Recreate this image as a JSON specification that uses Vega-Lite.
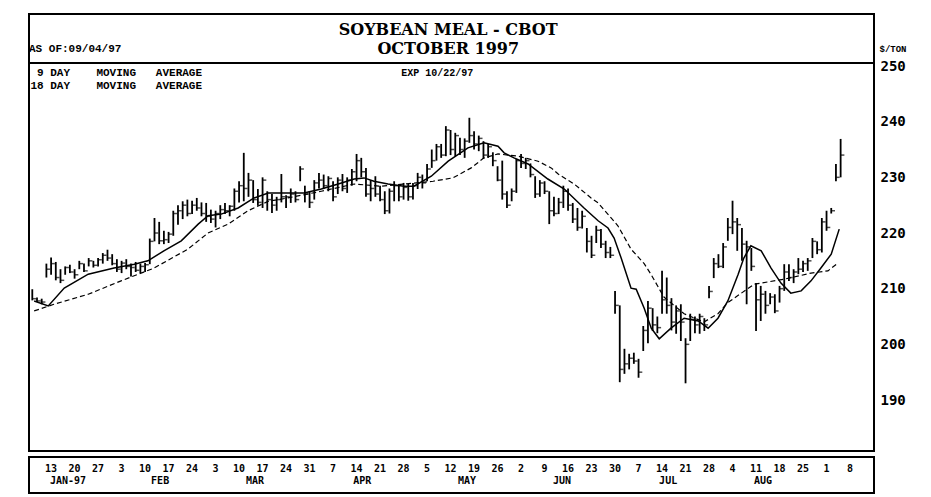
{
  "$schema": "https://vega.github.io/schema/vega-lite/v6.json",
  "background": "white",
  "padding": {"left": 28, "top": 13, "right": 5, "bottom": 5},
  "config": {
    "view": {"stroke": "black", "strokeWidth": 2},
    "text": {"font": "Liberation Mono", "fontWeight": "bold", "color": "black"}
  },
  "datasets": {
    "bars": [
      {"t":-4,"high":209.9,"low":207.9,"close":208.2},
      {"t":-3,"high":208.4,"low":207.6,"close":207.8},
      {"t":-2,"high":208.2,"low":207.2,"close":207.6},
      {"t":-1,"high":214.5,"low":212.0,"close":213.5},
      {"t":0,"high":215.6,"low":212.5,"close":214.5},
      {"t":1,"high":214.8,"low":211.5,"close":212.0},
      {"t":2,"high":213.5,"low":211.0,"close":211.5},
      {"t":3,"high":214.0,"low":212.5,"close":213.8},
      {"t":4,"high":214.3,"low":212.8,"close":213.0},
      {"t":5,"high":213.5,"low":211.8,"close":212.5},
      {"t":6,"high":215.0,"low":213.5,"close":214.5},
      {"t":7,"high":214.5,"low":213.0,"close":213.2},
      {"t":8,"high":215.5,"low":214.0,"close":215.0},
      {"t":9,"high":215.0,"low":213.8,"close":214.2},
      {"t":10,"high":215.5,"low":214.0,"close":215.2},
      {"t":11,"high":216.4,"low":214.5,"close":216.0},
      {"t":12,"high":217.0,"low":215.0,"close":215.5},
      {"t":13,"high":216.2,"low":214.2,"close":214.5},
      {"t":14,"high":215.3,"low":213.0,"close":213.5},
      {"t":15,"high":215.0,"low":212.8,"close":214.6},
      {"t":16,"high":215.3,"low":213.5,"close":214.0},
      {"t":17,"high":214.5,"low":212.2,"close":213.8},
      {"t":18,"high":214.8,"low":213.0,"close":213.3},
      {"t":19,"high":214.5,"low":212.8,"close":214.0},
      {"t":20,"high":214.6,"low":213.0,"close":214.3},
      {"t":21,"high":219.0,"low":214.4,"close":218.5},
      {"t":22,"high":222.7,"low":218.5,"close":220.0},
      {"t":23,"high":222.0,"low":218.0,"close":218.6},
      {"t":24,"high":220.4,"low":218.0,"close":218.8},
      {"t":25,"high":220.2,"low":218.2,"close":219.8},
      {"t":26,"high":224.0,"low":219.5,"close":223.5},
      {"t":27,"high":225.0,"low":221.5,"close":224.0},
      {"t":28,"high":225.7,"low":222.5,"close":225.0},
      {"t":29,"high":226.0,"low":223.0,"close":223.5},
      {"t":30,"high":225.8,"low":223.4,"close":225.0},
      {"t":31,"high":226.3,"low":224.0,"close":224.5},
      {"t":32,"high":225.5,"low":223.0,"close":223.5},
      {"t":33,"high":225.4,"low":222.0,"close":223.0},
      {"t":34,"high":224.2,"low":221.8,"close":222.5},
      {"t":35,"high":224.0,"low":221.0,"close":223.5},
      {"t":36,"high":225.0,"low":222.5,"close":224.2},
      {"t":37,"high":225.4,"low":223.4,"close":224.0},
      {"t":38,"high":225.0,"low":223.0,"close":224.8},
      {"t":39,"high":228.0,"low":224.0,"close":227.5},
      {"t":40,"high":229.3,"low":225.5,"close":228.5},
      {"t":41,"high":234.4,"low":225.7,"close":228.0},
      {"t":42,"high":230.8,"low":226.5,"close":229.5},
      {"t":43,"high":229.5,"low":225.4,"close":226.0},
      {"t":44,"high":227.9,"low":224.9,"close":225.5},
      {"t":45,"high":230.0,"low":224.5,"close":229.5},
      {"t":46,"high":227.5,"low":224.0,"close":226.0},
      {"t":47,"high":227.0,"low":223.6,"close":225.0},
      {"t":48,"high":226.5,"low":224.0,"close":226.0},
      {"t":49,"high":230.6,"low":225.5,"close":226.5},
      {"t":50,"high":226.8,"low":224.5,"close":226.5},
      {"t":51,"high":228.0,"low":225.4,"close":227.0},
      {"t":52,"high":227.5,"low":225.5,"close":226.0},
      {"t":53,"high":232.0,"low":229.3,"close":231.5},
      {"t":54,"high":228.5,"low":225.5,"close":227.0},
      {"t":55,"high":227.5,"low":224.5,"close":225.5},
      {"t":56,"high":229.5,"low":226.0,"close":229.0},
      {"t":57,"high":230.8,"low":228.0,"close":229.5},
      {"t":58,"high":230.5,"low":228.0,"close":228.5},
      {"t":59,"high":230.2,"low":227.5,"close":229.8},
      {"t":60,"high":229.3,"low":225.7,"close":226.5},
      {"t":61,"high":230.0,"low":227.0,"close":229.5},
      {"t":62,"high":230.6,"low":227.5,"close":228.0},
      {"t":63,"high":230.0,"low":227.2,"close":229.5},
      {"t":64,"high":231.5,"low":228.5,"close":231.0},
      {"t":65,"high":234.2,"low":229.3,"close":233.0},
      {"t":66,"high":233.5,"low":230.0,"close":231.0},
      {"t":67,"high":231.7,"low":226.5,"close":227.0},
      {"t":68,"high":229.5,"low":225.7,"close":228.0},
      {"t":69,"high":230.2,"low":226.5,"close":227.0},
      {"t":70,"high":228.5,"low":225.7,"close":226.0},
      {"t":71,"high":227.5,"low":223.4,"close":224.0},
      {"t":72,"high":228.0,"low":223.5,"close":227.5},
      {"t":73,"high":229.3,"low":225.7,"close":228.5},
      {"t":74,"high":228.5,"low":225.7,"close":226.5},
      {"t":75,"high":229.0,"low":226.0,"close":228.2},
      {"t":76,"high":228.8,"low":225.8,"close":226.5},
      {"t":77,"high":229.0,"low":226.0,"close":228.5},
      {"t":78,"high":230.8,"low":227.9,"close":230.0},
      {"t":79,"high":230.5,"low":228.0,"close":229.0},
      {"t":80,"high":232.4,"low":229.3,"close":231.5},
      {"t":81,"high":235.0,"low":231.7,"close":233.0},
      {"t":82,"high":236.0,"low":233.0,"close":235.5},
      {"t":83,"high":236.0,"low":233.5,"close":234.0},
      {"t":84,"high":239.2,"low":233.8,"close":238.5},
      {"t":85,"high":238.5,"low":234.0,"close":235.0},
      {"t":86,"high":238.0,"low":233.8,"close":237.5},
      {"t":87,"high":237.1,"low":234.0,"close":235.0},
      {"t":88,"high":237.0,"low":233.5,"close":236.5},
      {"t":89,"high":240.7,"low":236.2,"close":237.5},
      {"t":90,"high":238.3,"low":235.0,"close":236.0},
      {"t":91,"high":237.5,"low":234.7,"close":237.0},
      {"t":92,"high":236.5,"low":233.3,"close":234.0},
      {"t":93,"high":236.0,"low":233.5,"close":235.5},
      {"t":94,"high":234.5,"low":232.0,"close":233.0},
      {"t":95,"high":232.0,"low":229.3,"close":229.5},
      {"t":96,"high":233.0,"low":226.0,"close":227.0},
      {"t":97,"high":227.5,"low":224.5,"close":225.0},
      {"t":98,"high":228.0,"low":225.7,"close":227.5},
      {"t":99,"high":233.3,"low":227.2,"close":233.0},
      {"t":100,"high":234.2,"low":231.7,"close":232.5},
      {"t":101,"high":233.5,"low":231.5,"close":233.0},
      {"t":102,"high":232.5,"low":230.0,"close":230.5},
      {"t":103,"high":230.2,"low":226.3,"close":227.0},
      {"t":104,"high":229.5,"low":226.5,"close":229.0},
      {"t":105,"high":229.3,"low":227.0,"close":227.5},
      {"t":106,"high":227.5,"low":221.6,"close":224.0},
      {"t":107,"high":226.5,"low":223.0,"close":223.5},
      {"t":108,"high":226.3,"low":223.4,"close":225.5},
      {"t":109,"high":228.5,"low":224.5,"close":227.5},
      {"t":110,"high":228.0,"low":224.0,"close":225.0},
      {"t":111,"high":225.4,"low":221.8,"close":222.5},
      {"t":112,"high":224.5,"low":220.4,"close":221.0},
      {"t":113,"high":224.0,"low":220.8,"close":223.0},
      {"t":114,"high":220.9,"low":216.5,"close":218.5},
      {"t":115,"high":219.5,"low":215.5,"close":216.0},
      {"t":116,"high":221.3,"low":218.2,"close":220.5},
      {"t":117,"high":220.7,"low":217.3,"close":218.0},
      {"t":118,"high":218.6,"low":215.5,"close":216.5},
      {"t":119,"high":217.5,"low":215.5,"close":216.0},
      {"t":120,"high":209.6,"low":205.5,"close":207.0},
      {"t":121,"high":207.0,"low":193.2,"close":195.5},
      {"t":122,"high":199.2,"low":194.7,"close":196.5},
      {"t":123,"high":198.3,"low":195.5,"close":197.5},
      {"t":124,"high":198.5,"low":196.5,"close":197.0},
      {"t":125,"high":197.4,"low":194.0,"close":195.0},
      {"t":126,"high":203.3,"low":198.8,"close":202.5},
      {"t":127,"high":207.8,"low":200.2,"close":206.5},
      {"t":128,"high":206.5,"low":202.4,"close":203.5},
      {"t":129,"high":205.0,"low":202.0,"close":203.0},
      {"t":130,"high":213.2,"low":205.5,"close":208.0},
      {"t":131,"high":212.0,"low":205.5,"close":207.0},
      {"t":132,"high":208.3,"low":202.5,"close":204.0},
      {"t":133,"high":207.0,"low":201.9,"close":206.0},
      {"t":134,"high":207.2,"low":200.6,"close":204.0},
      {"t":135,"high":201.1,"low":193.0,"close":200.0},
      {"t":136,"high":205.5,"low":200.6,"close":204.5},
      {"t":137,"high":205.0,"low":202.0,"close":203.5},
      {"t":138,"high":205.5,"low":201.9,"close":205.0},
      {"t":139,"high":204.7,"low":202.4,"close":203.5},
      {"t":140,"high":210.5,"low":208.3,"close":209.5},
      {"t":141,"high":215.5,"low":211.9,"close":214.5},
      {"t":142,"high":216.2,"low":213.7,"close":214.0},
      {"t":143,"high":218.2,"low":213.7,"close":217.5},
      {"t":144,"high":222.7,"low":218.6,"close":221.0},
      {"t":145,"high":225.8,"low":219.8,"close":222.0},
      {"t":146,"high":222.7,"low":216.8,"close":221.5},
      {"t":147,"high":220.9,"low":215.0,"close":218.0},
      {"t":148,"high":218.6,"low":207.2,"close":217.5},
      {"t":149,"high":217.3,"low":213.2,"close":214.0},
      {"t":150,"high":211.0,"low":202.4,"close":208.0},
      {"t":151,"high":210.5,"low":204.2,"close":209.0},
      {"t":152,"high":209.6,"low":205.5,"close":207.0},
      {"t":153,"high":209.2,"low":207.2,"close":208.5},
      {"t":154,"high":209.0,"low":205.6,"close":206.0},
      {"t":155,"high":210.5,"low":207.5,"close":210.0},
      {"t":156,"high":214.4,"low":209.6,"close":213.0},
      {"t":157,"high":214.4,"low":211.4,"close":212.0},
      {"t":158,"high":213.5,"low":211.0,"close":213.0},
      {"t":159,"high":215.5,"low":212.6,"close":213.5},
      {"t":160,"high":215.0,"low":213.0,"close":214.5},
      {"t":161,"high":215.5,"low":213.2,"close":215.0},
      {"t":162,"high":219.1,"low":215.5,"close":218.5},
      {"t":163,"high":218.5,"low":216.2,"close":217.0},
      {"t":164,"high":222.7,"low":216.5,"close":222.0},
      {"t":165,"high":224.0,"low":220.4,"close":221.0},
      {"t":166,"high":224.5,"low":223.5,"close":224.0},
      {"t":167,"high":232.4,"low":229.3,"close":230.0},
      {"t":168,"high":236.9,"low":230.0,"close":234.0}
    ],
    "ma9": [
      {"t":-3.6,"ma":207.8},{"t":-0.6,"ma":206.9},{"t":2.8,"ma":210.1},{"t":7.9,"ma":212.6},
      {"t":13.4,"ma":213.7},{"t":17.7,"ma":214.4},{"t":20.6,"ma":215.0},{"t":24.0,"ma":216.8},
      {"t":27.7,"ma":218.6},{"t":31.3,"ma":221.6},{"t":33.4,"ma":223.1},{"t":36.2,"ma":223.4},
      {"t":39.8,"ma":224.5},{"t":43.2,"ma":226.3},{"t":46.2,"ma":227.2},{"t":50.4,"ma":227.2},
      {"t":53.8,"ma":227.2},{"t":57.5,"ma":227.9},{"t":61.1,"ma":228.8},{"t":64.5,"ma":229.7},
      {"t":66.6,"ma":229.9},{"t":68.7,"ma":229.3},{"t":71.7,"ma":228.8},{"t":75.1,"ma":228.4},
      {"t":77.2,"ma":228.4},{"t":80.9,"ma":230.2},{"t":84.5,"ma":232.9},{"t":88.7,"ma":235.3},
      {"t":92.1,"ma":236.2},{"t":95.1,"ma":235.6},{"t":96.4,"ma":234.4},{"t":98.5,"ma":233.5},
      {"t":101.5,"ma":232.4},{"t":105.7,"ma":229.7},{"t":109.2,"ma":227.9},{"t":113.4,"ma":224.5},
      {"t":116.4,"ma":222.2},{"t":118.5,"ma":220.9},{"t":119.8,"ma":219.1},{"t":121.3,"ma":215.5},
      {"t":123.4,"ma":210.1},{"t":124.5,"ma":209.9},{"t":126.2,"ma":206.5},{"t":127.7,"ma":202.9},
      {"t":129.4,"ma":201.0},{"t":131.9,"ma":202.9},{"t":134.7,"ma":204.7},{"t":137.7,"ma":204.2},
      {"t":139.8,"ma":202.9},{"t":141.9,"ma":204.7},{"t":144.0,"ma":207.8},{"t":146.2,"ma":212.6},
      {"t":147.4,"ma":215.5},{"t":148.9,"ma":217.7},{"t":151.1,"ma":216.8},{"t":153.2,"ma":213.7},
      {"t":155.3,"ma":211.0},{"t":157.4,"ma":209.2},{"t":159.6,"ma":209.6},{"t":161.7,"ma":211.4},
      {"t":163.8,"ma":213.7},{"t":166.0,"ma":216.2},{"t":167.7,"ma":220.7}
    ],
    "ma18": [
      {"t":-3.6,"ma":206.0},{"t":0.6,"ma":207.2},{"t":7.9,"ma":209.0},{"t":14.9,"ma":211.4},
      {"t":21.9,"ma":213.7},{"t":29.1,"ma":217.1},{"t":33.4,"ma":220.0},{"t":37.7,"ma":221.6},
      {"t":41.9,"ma":224.0},{"t":46.2,"ma":225.7},{"t":50.4,"ma":226.3},{"t":57.5,"ma":227.5},
      {"t":64.5,"ma":228.8},{"t":70.2,"ma":228.4},{"t":75.1,"ma":228.8},{"t":81.3,"ma":229.3},
      {"t":85.5,"ma":229.9},{"t":89.4,"ma":231.7},{"t":92.1,"ma":233.5},{"t":95.1,"ma":234.2},
      {"t":99.4,"ma":233.8},{"t":103.6,"ma":232.9},{"t":106.4,"ma":231.7},{"t":107.9,"ma":230.6},
      {"t":111.3,"ma":228.8},{"t":114.9,"ma":226.3},{"t":116.4,"ma":225.4},{"t":120.6,"ma":221.3},
      {"t":123.4,"ma":217.1},{"t":126.2,"ma":214.5},{"t":127.7,"ma":212.5},{"t":130.4,"ma":208.5},
      {"t":134.7,"ma":205.5},{"t":138.9,"ma":204.0},{"t":141.9,"ma":205.5},{"t":144.0,"ma":207.5},
      {"t":149.6,"ma":210.8},{"t":156.0,"ma":211.7},{"t":161.7,"ma":212.8},{"t":165.3,"ma":213.2},
      {"t":167.4,"ma":214.6}
    ],
    "days": [
      {"t":0,"label":"13"},{"t":5,"label":"20"},{"t":10,"label":"27"},{"t":15,"label":"3"},
      {"t":20,"label":"10"},{"t":25,"label":"17"},{"t":30,"label":"24"},{"t":35,"label":"3"},
      {"t":40,"label":"10"},{"t":45,"label":"17"},{"t":50,"label":"24"},{"t":55,"label":"31"},
      {"t":60,"label":"7"},{"t":65,"label":"14"},{"t":70,"label":"21"},{"t":75,"label":"28"},
      {"t":80,"label":"5"},{"t":85,"label":"12"},{"t":90,"label":"19"},{"t":95,"label":"26"},
      {"t":100,"label":"2"},{"t":105,"label":"9"},{"t":110,"label":"16"},{"t":115,"label":"23"},
      {"t":120,"label":"30"},{"t":125,"label":"7"},{"t":130,"label":"14"},{"t":135,"label":"21"},
      {"t":140,"label":"28"},{"t":145,"label":"4"},{"t":150,"label":"11"},{"t":155,"label":"18"},
      {"t":160,"label":"25"},{"t":165,"label":"1"},{"t":170,"label":"8"}
    ],
    "months": [
      {"t":3.6,"label":"JAN-97"},{"t":23.2,"label":"FEB"},{"t":43.4,"label":"MAR"},
      {"t":66.2,"label":"APR"},{"t":88.5,"label":"MAY"},{"t":108.7,"label":"JUN"},
      {"t":131.3,"label":"JUL"},{"t":151.5,"label":"AUG"}
    ]
  },
  "spacing": 4,
  "vconcat": [
    {
      "bounds": "flush",
      "spacing": 0,
      "vconcat": [
        {
          "width": 845,
          "height": 49,
          "data": {"values": [{}]},
          "encoding": {
            "x": {"type": "quantitative", "scale": {"domain": [-4.7, 175.1], "nice": false, "zero": false}, "axis": null},
            "y": {"type": "quantitative", "scale": {"domain": [0, 3.06], "reverse": true, "nice": false, "zero": false}, "axis": null}
          },
          "layer": [
            {
              "mark": {"type": "text", "font": "DejaVu Serif", "fontWeight": "bold", "fontSize": 16, "align": "center", "baseline": "middle"},
              "encoding": {"x": {"datum": 84.5, "type": "quantitative"}, "y": {"datum": 1, "type": "quantitative"}, "text": {"value": "SOYBEAN MEAL - CBOT"}}
            },
            {
              "mark": {"type": "text", "font": "DejaVu Serif", "fontWeight": "bold", "fontSize": 16, "align": "center", "baseline": "middle"},
              "encoding": {"x": {"datum": 84.5, "type": "quantitative"}, "y": {"datum": 2.2, "type": "quantitative"}, "text": {"value": "OCTOBER 1997"}}
            },
            {
              "mark": {"type": "text", "fontSize": 11, "align": "left", "baseline": "middle", "dx": 0},
              "encoding": {"x": {"datum": -4.7, "type": "quantitative"}, "y": {"datum": 2.2, "type": "quantitative"}, "text": {"value": "AS OF:09/04/97"}}
            }
          ]
        },
        {
          "width": 845,
          "height": 388,
          "layer": [
            {
              "data": {"name": "bars"},
              "mark": {"type": "rule", "color": "black", "strokeWidth": 1.8},
              "encoding": {
                "x": {"field": "t", "type": "quantitative", "scale": {"domain": [-4.7, 175.1], "nice": false, "zero": false}, "axis": null},
                "y": {
                  "field": "low", "type": "quantitative",
                  "scale": {"domain": [180.84, 250.54], "nice": false, "zero": false},
                  "axis": {
                    "orient": "right", "values": [190, 200, 210, 220, 230, 240, 250],
                    "ticks": false, "domain": false, "grid": false,
                    "labelFont": "DejaVu Sans Mono", "labelFontSize": 14, "labelFontWeight": "bold", "labelColor": "black",
                    "labelPadding": 6, "labelBaseline": "middle",
                    "title": "$/TON", "titleAngle": 0, "titleX": 5, "titleY": -15, "titleAlign": "left", "titleBaseline": "middle",
                    "titleFont": "Liberation Mono", "titleFontSize": 9, "titleFontWeight": "bold", "titleColor": "black"
                  }
                },
                "y2": {"field": "high"}
              }
            },
            {
              "data": {"name": "bars"},
              "mark": {"type": "tick", "orient": "horizontal", "color": "black", "size": 3.5, "thickness": 1.5, "xOffset": 2},
              "encoding": {
                "x": {"field": "t", "type": "quantitative"},
                "y": {"field": "close", "type": "quantitative"}
              }
            },
            {
              "data": {"name": "ma9"},
              "mark": {"type": "line", "color": "black", "strokeWidth": 1.5},
              "encoding": {
                "x": {"field": "t", "type": "quantitative"},
                "y": {"field": "ma", "type": "quantitative"}
              }
            },
            {
              "data": {"name": "ma18"},
              "mark": {"type": "line", "color": "black", "strokeWidth": 1.2, "strokeDash": [5, 3]},
              "encoding": {
                "x": {"field": "t", "type": "quantitative"},
                "y": {"field": "ma", "type": "quantitative"}
              }
            },
            {
              "data": {"values": [{}]},
              "mark": {"type": "text", "fontSize": 11, "align": "left", "baseline": "middle", "dx": 6.6},
              "encoding": {"x": {"datum": -4.4, "type": "quantitative"}, "y": {"datum": 248.74, "type": "quantitative"}, "text": {"value": "9\u00a0DAY\u00a0\u00a0\u00a0\u00a0MOVING\u00a0\u00a0\u00a0AVERAGE"}}
            },
            {
              "data": {"values": [{}]},
              "mark": {"type": "text", "fontSize": 11, "align": "left", "baseline": "middle"},
              "encoding": {"x": {"datum": -4.4, "type": "quantitative"}, "y": {"datum": 246.4, "type": "quantitative"}, "text": {"value": "18\u00a0DAY\u00a0\u00a0\u00a0\u00a0MOVING\u00a0\u00a0\u00a0AVERAGE"}}
            },
            {
              "data": {"values": [{}]},
              "mark": {"type": "text", "fontSize": 10, "align": "left", "baseline": "middle"},
              "encoding": {"x": {"datum": 74.5, "type": "quantitative"}, "y": {"datum": 248.74, "type": "quantitative"}, "text": {"value": "EXP 10/22/97"}}
            }
          ]
        }
      ]
    },
    {
      "width": 845,
      "height": 36,
      "encoding": {
        "x": {"field": "t", "type": "quantitative", "scale": {"domain": [-4.7, 175.1], "nice": false, "zero": false}, "axis": null}
      },
      "layer": [
        {
          "data": {"name": "days"},
          "mark": {"type": "text", "font": "DejaVu Sans Mono", "fontSize": 10, "align": "center", "baseline": "middle"},
          "encoding": {
            "y": {"datum": 1, "type": "quantitative", "scale": {"domain": [0, 3], "reverse": true, "nice": false, "zero": false}, "axis": null},
            "text": {"field": "label"}
          }
        },
        {
          "data": {"name": "months"},
          "mark": {"type": "text", "font": "DejaVu Sans Mono", "fontSize": 10, "align": "center", "baseline": "middle"},
          "encoding": {
            "y": {"datum": 2, "type": "quantitative"},
            "text": {"field": "label"}
          }
        }
      ]
    }
  ]
}
